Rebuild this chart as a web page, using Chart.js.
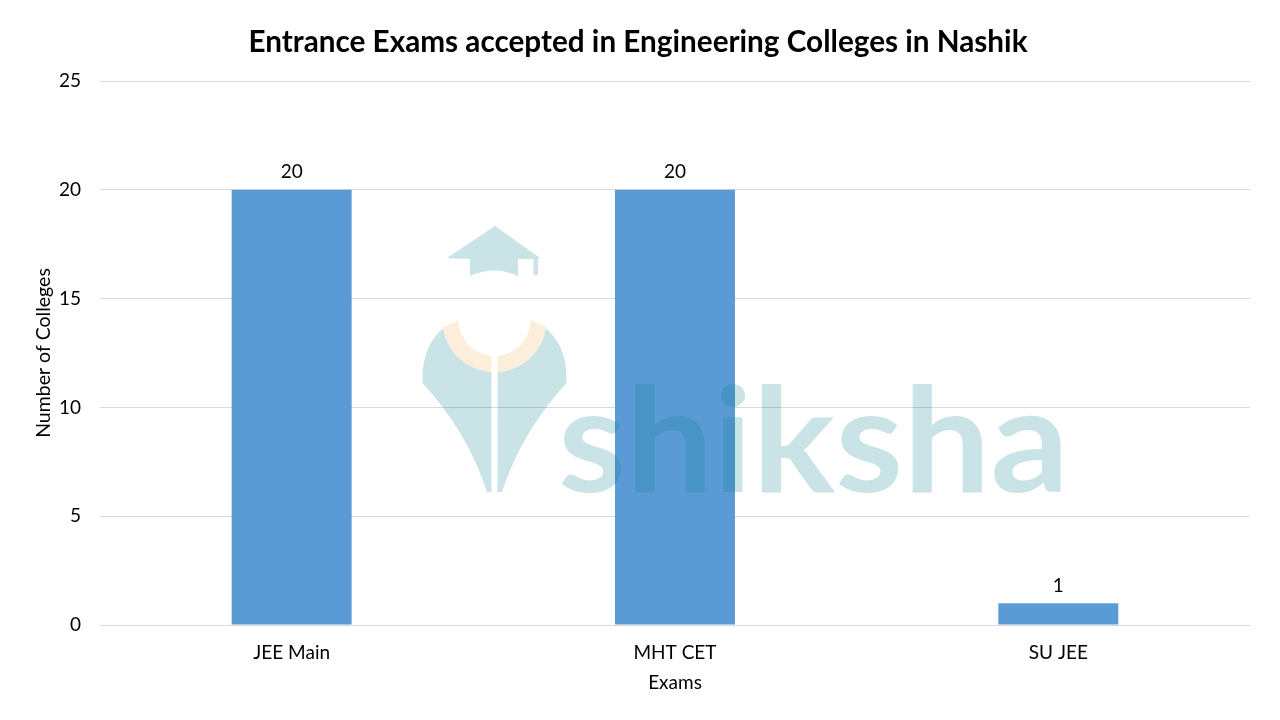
<!DOCTYPE html>
<html>
<head>
<meta charset="utf-8">
<title>Entrance Exams accepted in Engineering Colleges in Nashik</title>
<script src="https://cdn.jsdelivr.net/npm/chart.js@4"></script>
<style>
  html, body { margin: 0; padding: 0; background: #fff; }
  canvas { display: block; }
</style>
</head>
<body>
<canvas id="exam-chart" width="1280" height="720"></canvas>
<script>
const categories = ["JEE Main", "MHT CET", "SU JEE"];
const collegeCounts = [20, 20, 1];
const yTickValues = [0, 5, 10, 15, 20, 25];

const fontName = "Lato, Carlito, sans-serif";
const teal = "rgba(0, 124, 138, 0.21)";
const cream = "#fdeedb";

// half of the logo body, mirrored for the right side
function logoHalf(ctx, cx) {
  ctx.beginPath();
  ctx.moveTo(cx - 3, 492);
  ctx.lineTo(cx - 7.5, 492);
  ctx.quadraticCurveTo(cx - 27, 432, cx - 72, 383);
  ctx.lineTo(cx - 72, 378);
  ctx.quadraticCurveTo(cx - 72, 345, cx - 50, 327);
  ctx.arc(cx, 320, 52, Math.PI - 0.14, Math.PI / 2 + 0.06, true);
  ctx.closePath();
  ctx.fillStyle = teal;
  ctx.fill();

  // cream ring
  ctx.beginPath();
  ctx.arc(cx, 320, 52, Math.PI - 0.14, Math.PI / 2 + 0.06, true);
  ctx.arc(cx, 320, 36, Math.PI / 2 + 0.08, Math.PI, false);
  ctx.closePath();
  ctx.fillStyle = cream;
  ctx.fill();
}

const watermark = {
  id: "watermark",
  afterDatasetsDraw(chart) {
    const ctx = chart.ctx;
    const cx = 494.5;
    ctx.save();

    // cap
    ctx.fillStyle = teal;
    ctx.beginPath();
    ctx.moveTo(495, 226);
    ctx.lineTo(540, 258);
    ctx.lineTo(538, 259);
    ctx.lineTo(538, 275);
    ctx.lineTo(533.5, 275);
    ctx.lineTo(533.5, 259);
    ctx.lineTo(518, 259);
    ctx.lineTo(518, 276);
    ctx.quadraticCurveTo(494, 265, 470, 276);
    ctx.lineTo(470, 259);
    ctx.lineTo(447, 258);
    ctx.closePath();
    ctx.fill();

    logoHalf(ctx, cx);
    ctx.translate(2 * cx, 0);
    ctx.scale(-1, 1);
    logoHalf(ctx, cx);
    ctx.setTransform(1, 0, 0, 1, 0, 0);

    // wordmark stretched to the logo width
    ctx.fillStyle = teal;
    ctx.font = "bold 146px " + fontName;
    ctx.textAlign = "left";
    ctx.textBaseline = "alphabetic";
    const wordWidth = ctx.measureText("shiksha").width;
    ctx.translate(558, 492);
    ctx.scale(511 / wordWidth, 1);
    ctx.fillText("shiksha", 0, 0);
    ctx.restore();
  }
};

const valueLabels = {
  id: "valueLabels",
  afterDatasetsDraw(chart) {
    const ctx = chart.ctx;
    const meta = chart.getDatasetMeta(0);
    ctx.save();
    ctx.fillStyle = "#000";
    ctx.font = "19px " + fontName;
    ctx.textAlign = "center";
    ctx.textBaseline = "alphabetic";
    meta.data.forEach((bar, i) => {
      ctx.fillText(collegeCounts[i], bar.x, bar.y - 11.5);
    });
    ctx.restore();
  }
};

new Chart(document.getElementById("exam-chart"), {
  type: "bar",
  data: {
    labels: categories,
    datasets: [
      {
        label: "Number of Colleges",
        data: collegeCounts,
        backgroundColor: "#5b9bd5",
        barPercentage: 0.313,
        categoryPercentage: 1,
      },
    ],
  },
  options: {
    responsive: false,
    animation: false,
    layout: { padding: { left: 26, right: 30, top: 0, bottom: 0 } },
    plugins: {
      legend: { display: false },
      tooltip: { enabled: false },
      title: {
        display: true,
        text: "Entrance Exams accepted in Engineering Colleges in Nashik",
        color: "#000",
        font: { family: fontName, size: 29.7, weight: "bold" },
        padding: { top: 25, bottom: 20.4 },
      },
    },
    scales: {
      x: {
        afterFit(scale) {
          scale.height = 95;
        },
        grid: { display: false },
        border: { display: false },
        ticks: { color: "#000", font: { family: fontName, size: 19 }, padding: 8 },
        title: {
          display: true,
          text: "Exams",
          color: "#000",
          font: { family: fontName, size: 19 },
          padding: { top: 7, bottom: 26 },
        },
      },
      y: {
        min: 0,
        max: 25,
        afterBuildTicks(scale) {
          scale.ticks = yTickValues.map((v) => ({ value: v }));
        },
        afterFit(scale) {
          scale.width = 74;
        },
        grid: { color: "#d9d9d9", drawTicks: false },
        border: { display: false },
        ticks: { color: "#000", font: { family: fontName, size: 19 }, padding: 19 },
        title: {
          display: true,
          text: "Number of Colleges",
          color: "#000",
          font: { family: fontName, size: 19.5 },
          padding: { top: 6, bottom: 0 },
        },
      },
    },
  },
  plugins: [watermark, valueLabels],
});
</script>
</body>
</html>
